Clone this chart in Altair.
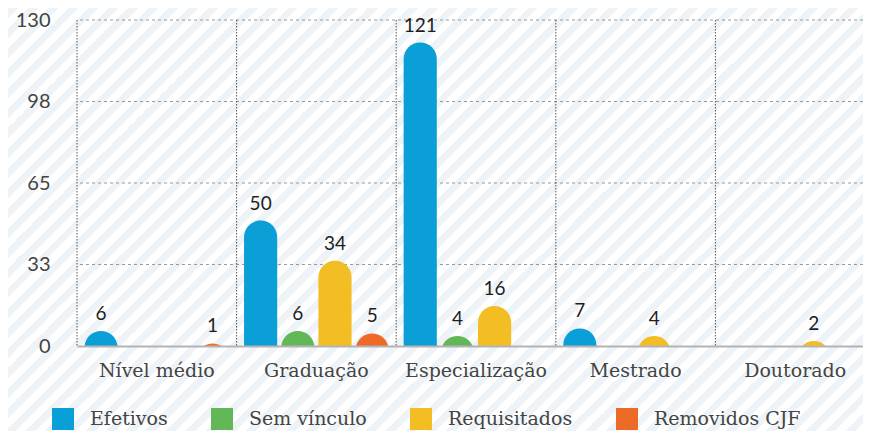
import altair as alt
import pandas as pd

categories = ["Nível médio", "Graduação", "Especialização", "Mestrado", "Doutorado"]
series = ["Efetivos", "Sem vínculo", "Requisitados", "Removidos CJF"]
colors = ["#0a9fd6", "#62b857", "#f3be23", "#ee6b27"]
efetivos = [6, 50, 121, 7, 0]
sem_vinculo = [0, 6, 4, 0, 0]
requisitados = [0, 34, 16, 4, 2]
removidos = [1, 5, 0, 0, 0]
y_ticks = [0, 32.5, 65, 97.5, 130]

rows = []
for s, vals in zip(series, [efetivos, sem_vinculo, requisitados, removidos]):
    for c, v in zip(categories, vals):
        if v > 0:
            rows.append({"cat": c, "series": s, "value": v})
df = pd.DataFrame(rows)

W, H = 798, 326
PAD_L, PAD_T = 69, 12
SVG_W = 855

# decorative diagonal stripe background
side = 880
L = side * 2 ** 0.5
period = 20 / 2 ** 0.5
light, white = "#edf3f6", "#ffffff"
stops = []
i = 0
while i * period < L:
    a = i * period / L
    b = min((i + 0.5) * period / L, 1)
    c = min((i + 1) * period / L, 1)
    stops += [
        alt.GradientStop(color=light, offset=a),
        alt.GradientStop(color=light, offset=b),
        alt.GradientStop(color=white, offset=b),
        alt.GradientStop(color=white, offset=c),
    ]
    i += 1
grad = alt.LinearGradient(gradient="linear", stops=stops, x1=0, y1=0, x2=1, y2=1)

bg = alt.Chart(alt.Data(values=[{}])).mark_rect(fill=grad).encode(
    x=alt.value(-PAD_L), x2=alt.value(side - PAD_L),
    y=alt.value(-PAD_T), y2=alt.value(side - PAD_T),
)

xscale = alt.Scale(paddingInner=0, paddingOuter=0)
yscale = alt.Scale(domain=[0, 130], nice=False, zero=True)
xaxis = alt.Axis(title=None, labelFont="DejaVu Serif", labelFontSize=19, labelColor="#444",
                 labelPadding=15, ticks=False, domainColor="#b4b4b4", domainWidth=2,
                 grid=False, zindex=1, labelAngle=0)
yaxis = alt.Axis(title=None, values=y_ticks, format="d", labelFont="Lato", labelFontSize=20,
                 labelColor="#444", labelPadding=27, ticks=False, domain=False,
                 grid=False, zindex=1)


def X(**kw):
    return alt.X("cat:N", sort=categories, scale=xscale, axis=xaxis, **kw)


def Y(field):
    return alt.Y(field, scale=yscale, axis=yaxis)


xoff = alt.XOffset("series:N", sort=series, scale=alt.Scale(paddingInner=0.108, paddingOuter=0.2))

vrules = alt.Chart(pd.DataFrame({"cat": categories})).mark_rule(
    color="#555", strokeDash=[1.5, 1.5], strokeWidth=1
).encode(x=X(bandPosition=0))

hrules = alt.Chart(pd.DataFrame({"v": y_ticks[1:]})).mark_rule(
    color="#9a9a9a", strokeDash=[3, 3], strokeWidth=1
).encode(y=Y("v:Q"))

# bars start below the baseline (clipped) so that short bars keep a round top
bars = alt.Chart(df).mark_bar(cornerRadiusTopLeft=16.5, cornerRadiusTopRight=16.5, clip=True).encode(
    x=X(), xOffset=xoff, y=Y("value:Q"), y2=alt.datum(-15),
    color=alt.Color("series:N", sort=series, scale=alt.Scale(domain=series, range=colors),
                    legend=alt.Legend(title=None, orient="none", legendX=-25, legendY=388,
                                      direction="horizontal", symbolType="square",
                                      symbolSize=484, symbolStrokeWidth=0,
                                      labelFont="DejaVu Serif", labelFontSize=19,
                                      labelColor="#444", labelOffset=16, columnPadding=43,
                                      padding=0, labelLimit=300)),
)

labels = alt.Chart(df).mark_text(dy=-11, baseline="alphabetic", font="Lato", fontSize=19,
                                  color="#1e1e1e").encode(
    x=X(), xOffset=xoff, y=Y("value:Q"), text="value:Q"
)

chart = alt.layer(bg, hrules, vrules, bars, labels).properties(
    width=W, height=H,
    padding={"left": PAD_L, "top": PAD_T, "right": SVG_W - PAD_L - W, "bottom": 90},
    autosize=alt.AutoSizeParams(type="none"),
).configure_view(stroke=None)

chart.save("out.html", embed_options={"renderer": "svg", "actions": False})
